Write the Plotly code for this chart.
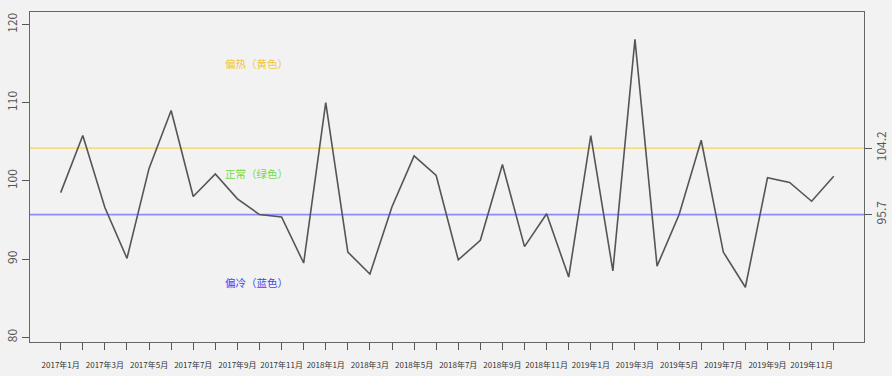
import plotly.graph_objects as go

months = [f"{y}年{m}月" for y in (2017, 2018, 2019) for m in range(1, 13)]
values = [98.5, 105.8, 96.6, 90.1, 101.6, 109.0, 98.0, 100.9, 97.7, 95.7, 95.4, 89.5,
          110.0, 90.9, 88.1, 96.7, 103.2, 100.7, 89.9, 92.4, 102.1, 91.6, 95.8, 87.7,
          105.8, 88.5, 118.1, 89.1, 95.7, 105.2, 90.9, 86.4, 100.4, 99.8, 97.4, 100.6]
hot_threshold = 104.2
cold_threshold = 95.7
y_ticks = [80, 90, 100, 110, 120]
labels = ["偏热（黄色）", "正常（绿色）", "偏冷（蓝色）"]
label_y = [115, 101, 87]
label_colors = ["#EEC83A", "#6EDC44", "#4444EE"]

idx = list(range(len(months)))
ticktext = [m if i % 2 == 0 else "" for i, m in enumerate(months)]

fig = go.Figure()
fig.add_trace(go.Scatter(x=idx, y=values, mode="lines",
                         line=dict(color="#555555", width=1.6), showlegend=False, hoverinfo="skip"))
fig.add_trace(go.Scatter(x=[idx[0]], y=[values[0]], yaxis="y2", mode="markers",
                         marker=dict(opacity=0), showlegend=False, hoverinfo="skip"))

fig.add_hline(y=hot_threshold, line=dict(color="#F3D55B", width=1.2), layer="below")
fig.add_hline(y=cold_threshold, line=dict(color="#8C8CFF", width=1.8), layer="below")

for t, yv, c in zip(labels, label_y, label_colors):
    fig.add_annotation(x=8.85, y=yv, text=t, showarrow=False,
                       font=dict(family="Noto Sans CJK SC", size=10.5, color=c))

yr = [79.4, 121.6]
fig.update_layout(
    width=892, height=376,
    margin=dict(l=30, r=28, t=12, b=34, autoexpand=False),
    paper_bgcolor="#F2F2F2", plot_bgcolor="#F2F2F2",
    font=dict(family="Noto Sans CJK SC", color="#444444"),
    xaxis=dict(range=[-1.39, 36.37], tickvals=idx, ticktext=ticktext, tickangle=0, automargin=False,
               ticks="outside", ticklen=7, tickcolor="#555555", showgrid=False, zeroline=False,
               showline=True, mirror=True, linecolor="#666666", linewidth=1,
               tickfont=dict(size=8, color="#333333"), ticklabelstandoff=8),
    yaxis=dict(range=yr, tickvals=y_ticks, tickangle=-90, ticks="outside", ticklen=7, automargin=False,
               tickcolor="#555555", showgrid=False, zeroline=False, showline=True, mirror=True,
               linecolor="#666666", linewidth=1, tickfont=dict(size=12, color="#555555")),
    yaxis2=dict(range=yr, overlaying="y", side="right", tickvals=[cold_threshold, hot_threshold],
                ticktext=[str(cold_threshold), str(hot_threshold)], tickangle=-90, automargin=False,
                ticks="outside", ticklen=7, tickcolor="#555555", showgrid=False, zeroline=False,
                showline=False, tickfont=dict(size=12, color="#555555")),
)

fig.write_html("out.html", config={"displayModeBar": False},
               post_script="document.body.style.margin='0';document.body.style.background='#F2F2F2';")
